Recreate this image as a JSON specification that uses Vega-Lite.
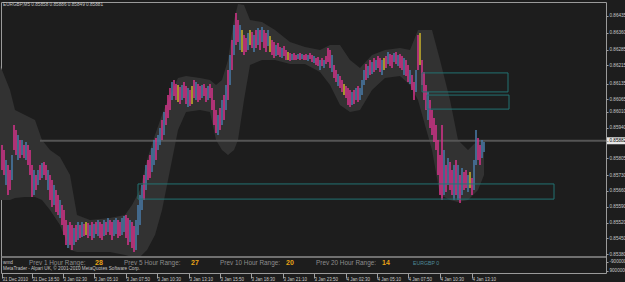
{
"$schema":"https://vega.github.io/schema/vega-lite/v6.json",
"width":605,"height":271,"autosize":"none",
"padding":{"left":1,"top":2,"right":19,"bottom":9},
"background":"#1d1d1d",
"config":{"view":{"stroke":"#9a9a9a","strokeWidth":1},"font":"Liberation Sans"},
"datasets":{
"band":[
{"t":0,"v":0.86217,"v2":0.8562},{"t":10,"v":0.86106,"v2":0.8562},{"t":15,"v":0.86018,"v2":0.85629},{"t":25,"v":0.85996,"v2":0.85633},{"t":35,"v":0.85974,"v2":0.85633},{"t":42,"v":0.85885,"v2":0.8562},{"t":50,"v":0.85841,"v2":0.85576},{"t":60,"v":0.8581,"v2":0.85509},{"t":70,"v":0.85731,"v2":0.85399},{"t":77,"v":0.85554,"v2":0.8539},{"t":90,"v":0.85532,"v2":0.8539},{"t":110,"v":0.8554,"v2":0.8539},{"t":125,"v":0.85554,"v2":0.85377},{"t":132,"v":0.85598,"v2":0.85368},{"t":140,"v":0.85664,"v2":0.85368},{"t":147,"v":0.85797,"v2":0.85399},{"t":155,"v":0.85907,"v2":0.85465},{"t":162,"v":0.85996,"v2":0.85576},{"t":170,"v":0.86084,"v2":0.85753},{"t":178,"v":0.8616,"v2":0.8593},{"t":186,"v":0.86168,"v2":0.86009},{"t":200,"v":0.8616,"v2":0.86018},{"t":210,"v":0.86151,"v2":0.86009},{"t":216,"v":0.86129,"v2":0.85885},{"t":222,"v":0.86151,"v2":0.85841},{"t":228,"v":0.86239,"v2":0.85819},{"t":234,"v":0.86416,"v2":0.85841},{"t":238,"v":0.86487,"v2":0.85885},{"t":244,"v":0.86482,"v2":0.86062},{"t":250,"v":0.86416,"v2":0.86217},{"t":262,"v":0.86407,"v2":0.86239},{"t":275,"v":0.86372,"v2":0.86239},{"t":290,"v":0.86319,"v2":0.86221},{"t":305,"v":0.86297,"v2":0.86221},{"t":320,"v":0.86283,"v2":0.86186},{"t":330,"v":0.86305,"v2":0.86129},{"t":340,"v":0.86305,"v2":0.8604},{"t":350,"v":0.86239,"v2":0.86009},{"t":360,"v":0.86204,"v2":0.86018},{"t":372,"v":0.86261,"v2":0.86106},{"t":385,"v":0.86283,"v2":0.8616},{"t":400,"v":0.86292,"v2":0.86168},{"t":410,"v":0.86283,"v2":0.86129},{"t":418,"v":0.86372,"v2":0.86062},{"t":425,"v":0.86372,"v2":0.85952},{"t":432,"v":0.86372,"v2":0.85841},{"t":440,"v":0.86239,"v2":0.85642},{"t":450,"v":0.86062,"v2":0.8562},{"t":458,"v":0.85885,"v2":0.85611},{"t":468,"v":0.85841,"v2":0.8562},{"t":478,"v":0.85885,"v2":0.85664},{"t":484,"v":0.85885,"v2":0.85731}
],
"bars":[
{"t":2,"v":0.85863,"v2":0.85753,"c":"d"},{"t":4,"v":0.85841,"v2":0.85731,"c":"d"},{"t":6,"v":0.85797,"v2":0.85686,"c":"u"},{"t":8,"v":0.85775,"v2":0.85642,"c":"d"},{"t":10,"v":0.85753,"v2":0.85664,"c":"d"},{"t":12,"v":0.85819,"v2":0.85708,"c":"u"},{"t":14,"v":0.85952,"v2":0.85841,"c":"d"},{"t":16,"v":0.8593,"v2":0.85819,"c":"d"},{"t":18,"v":0.85907,"v2":0.85797,"c":"u"},{"t":20,"v":0.85885,"v2":0.85806,"c":"d"},
{"t":22,"v":0.85885,"v2":0.85819,"c":"u"},{"t":24,"v":0.85863,"v2":0.85806,"c":"d"},{"t":26,"v":0.85877,"v2":0.85797,"c":"u"},{"t":28,"v":0.85863,"v2":0.85775,"c":"d"},{"t":30,"v":0.85841,"v2":0.85731,"c":"d"},{"t":32,"v":0.85775,"v2":0.85633,"c":"d"},{"t":34,"v":0.85753,"v2":0.85642,"c":"u"},{"t":36,"v":0.85731,"v2":0.85664,"c":"d"},{"t":38,"v":0.85753,"v2":0.85686,"c":"u"},{"t":40,"v":0.85775,"v2":0.85708,"c":"d"},
{"t":42,"v":0.85784,"v2":0.85717,"c":"u"},{"t":44,"v":0.85788,"v2":0.85731,"c":"d"},{"t":46,"v":0.85775,"v2":0.85708,"c":"d"},{"t":48,"v":0.85753,"v2":0.85664,"c":"u"},{"t":50,"v":0.85731,"v2":0.8562,"c":"d"},{"t":52,"v":0.85708,"v2":0.85589,"c":"d"},{"t":54,"v":0.85686,"v2":0.85598,"c":"u"},{"t":56,"v":0.85664,"v2":0.85567,"c":"d"},{"t":58,"v":0.85642,"v2":0.85554,"c":"d"},{"t":60,"v":0.8562,"v2":0.8554,"c":"u"},
{"t":62,"v":0.85598,"v2":0.85509,"c":"d"},{"t":64,"v":0.85576,"v2":0.85465,"c":"d"},{"t":66,"v":0.85532,"v2":0.85421,"c":"d"},{"t":68,"v":0.85509,"v2":0.85408,"c":"u"},{"t":70,"v":0.85523,"v2":0.85421,"c":"d"},{"t":72,"v":0.85509,"v2":0.85399,"c":"d"},{"t":74,"v":0.85496,"v2":0.85421,"c":"u"},{"t":76,"v":0.85509,"v2":0.85434,"c":"d"},{"t":78,"v":0.85523,"v2":0.85443,"c":"u"},{"t":80,"v":0.85509,"v2":0.85452,"c":"d"},
{"t":82,"v":0.85523,"v2":0.85456,"c":"u"},{"t":84,"v":0.85514,"v2":0.85461,"c":"d"},{"t":86,"v":0.85523,"v2":0.85465,"c":"y"},{"t":88,"v":0.85518,"v2":0.85452,"c":"d"},{"t":90,"v":0.85509,"v2":0.85461,"c":"u"},{"t":92,"v":0.85523,"v2":0.85443,"c":"d"},{"t":94,"v":0.85514,"v2":0.85452,"c":"u"},{"t":96,"v":0.85523,"v2":0.8547,"c":"d"},{"t":98,"v":0.85532,"v2":0.85461,"c":"u"},{"t":100,"v":0.85523,"v2":0.85452,"c":"d"},
{"t":102,"v":0.85514,"v2":0.85443,"c":"d"},{"t":104,"v":0.85532,"v2":0.85461,"c":"u"},{"t":106,"v":0.85523,"v2":0.85465,"c":"d"},{"t":108,"v":0.8554,"v2":0.85479,"c":"u"},{"t":110,"v":0.85532,"v2":0.85465,"c":"d"},{"t":112,"v":0.85523,"v2":0.85443,"c":"d"},{"t":114,"v":0.85532,"v2":0.85461,"c":"u"},{"t":116,"v":0.8554,"v2":0.8547,"c":"u"},{"t":118,"v":0.85532,"v2":0.85452,"c":"d"},{"t":120,"v":0.85523,"v2":0.85461,"c":"d"},
{"t":122,"v":0.8554,"v2":0.85465,"c":"u"},{"t":124,"v":0.85549,"v2":0.85479,"c":"u"},{"t":126,"v":0.85554,"v2":0.85452,"c":"d"},{"t":128,"v":0.8554,"v2":0.85421,"c":"d"},{"t":130,"v":0.85532,"v2":0.85434,"c":"u"},{"t":132,"v":0.85523,"v2":0.85408,"c":"d"},{"t":134,"v":0.85505,"v2":0.8539,"c":"d"},{"t":136,"v":0.85532,"v2":0.85399,"c":"u"},{"t":138,"v":0.85598,"v2":0.85465,"c":"u"},{"t":140,"v":0.85642,"v2":0.85509,"c":"u"},
{"t":142,"v":0.85686,"v2":0.85576,"c":"u"},{"t":144,"v":0.85731,"v2":0.8562,"c":"d"},{"t":146,"v":0.85775,"v2":0.85664,"c":"u"},{"t":148,"v":0.85797,"v2":0.85708,"c":"d"},{"t":150,"v":0.85819,"v2":0.85717,"c":"d"},{"t":152,"v":0.8585,"v2":0.85744,"c":"u"},{"t":154,"v":0.85885,"v2":0.85775,"c":"u"},{"t":156,"v":0.85894,"v2":0.85797,"c":"d"},{"t":158,"v":0.85907,"v2":0.85841,"c":"u"},{"t":160,"v":0.85938,"v2":0.85863,"c":"u"},
{"t":162,"v":0.85974,"v2":0.85885,"c":"d"},{"t":164,"v":0.86009,"v2":0.85907,"c":"u"},{"t":166,"v":0.8604,"v2":0.85952,"c":"d"},{"t":168,"v":0.86084,"v2":0.85983,"c":"d"},{"t":170,"v":0.86115,"v2":0.86018,"c":"d"},{"t":172,"v":0.86142,"v2":0.86062,"c":"u"},{"t":174,"v":0.86151,"v2":0.8608,"c":"d"},{"t":176,"v":0.86133,"v2":0.86062,"c":"d"},{"t":178,"v":0.86129,"v2":0.86053,"c":"y"},{"t":180,"v":0.8612,"v2":0.86045,"c":"d"},
{"t":182,"v":0.86129,"v2":0.86062,"c":"u"},{"t":184,"v":0.86142,"v2":0.86071,"c":"d"},{"t":186,"v":0.86124,"v2":0.86045,"c":"d"},{"t":188,"v":0.86115,"v2":0.86031,"c":"u"},{"t":190,"v":0.86106,"v2":0.86036,"c":"d"},{"t":192,"v":0.86124,"v2":0.86045,"c":"y"},{"t":194,"v":0.86151,"v2":0.86071,"c":"d"},{"t":196,"v":0.86142,"v2":0.86062,"c":"u"},{"t":198,"v":0.86133,"v2":0.86053,"c":"d"},{"t":200,"v":0.86124,"v2":0.86062,"c":"d"},
{"t":202,"v":0.86129,"v2":0.86071,"c":"u"},{"t":204,"v":0.86133,"v2":0.8608,"c":"d"},{"t":206,"v":0.86115,"v2":0.86053,"c":"d"},{"t":208,"v":0.86124,"v2":0.86062,"c":"u"},{"t":210,"v":0.86133,"v2":0.86071,"c":"d"},{"t":212,"v":0.86115,"v2":0.86018,"c":"d"},{"t":214,"v":0.86062,"v2":0.85952,"c":"d"},{"t":216,"v":0.86018,"v2":0.85916,"c":"d"},{"t":218,"v":0.85996,"v2":0.85907,"c":"u"},{"t":220,"v":0.86027,"v2":0.8593,"c":"d"},
{"t":222,"v":0.86062,"v2":0.85952,"c":"u"},{"t":224,"v":0.86084,"v2":0.85974,"c":"d"},{"t":226,"v":0.86129,"v2":0.86018,"c":"u"},{"t":228,"v":0.86195,"v2":0.86062,"c":"d"},{"t":230,"v":0.86261,"v2":0.86129,"c":"u"},{"t":232,"v":0.86328,"v2":0.86195,"c":"d"},{"t":234,"v":0.86394,"v2":0.86261,"c":"u"},{"t":236,"v":0.86447,"v2":0.86305,"c":"d"},{"t":238,"v":0.86416,"v2":0.86319,"c":"d"},{"t":240,"v":0.86394,"v2":0.86283,"c":"u"},
{"t":242,"v":0.86372,"v2":0.86274,"c":"y"},{"t":244,"v":0.8635,"v2":0.86261,"c":"d"},{"t":246,"v":0.86336,"v2":0.86274,"c":"d"},{"t":248,"v":0.86359,"v2":0.86283,"c":"u"},{"t":250,"v":0.86372,"v2":0.86305,"c":"y"},{"t":252,"v":0.86363,"v2":0.86292,"c":"d"},{"t":254,"v":0.8635,"v2":0.86274,"c":"u"},{"t":256,"v":0.86372,"v2":0.86292,"c":"d"},{"t":258,"v":0.86381,"v2":0.86305,"c":"u"},{"t":260,"v":0.86372,"v2":0.86283,"c":"d"},
{"t":262,"v":0.86385,"v2":0.86319,"c":"u"},{"t":264,"v":0.86372,"v2":0.86292,"c":"d"},{"t":266,"v":0.86359,"v2":0.86274,"c":"d"},{"t":268,"v":0.86372,"v2":0.86301,"c":"u"},{"t":270,"v":0.86345,"v2":0.86274,"c":"y"},{"t":272,"v":0.86328,"v2":0.86261,"c":"d"},{"t":274,"v":0.86319,"v2":0.86248,"c":"d"},{"t":276,"v":0.86305,"v2":0.86257,"c":"u"},{"t":278,"v":0.86314,"v2":0.86261,"c":"d"},{"t":280,"v":0.86297,"v2":0.86252,"c":"d"},
{"t":282,"v":0.86292,"v2":0.86248,"c":"u"},{"t":284,"v":0.86301,"v2":0.86257,"c":"d"},{"t":286,"v":0.86283,"v2":0.86239,"c":"d"},{"t":288,"v":0.86274,"v2":0.86239,"c":"y"},{"t":290,"v":0.8627,"v2":0.86235,"c":"d"},{"t":292,"v":0.86266,"v2":0.86239,"c":"u"},{"t":294,"v":0.8627,"v2":0.86239,"c":"d"},{"t":296,"v":0.86261,"v2":0.86239,"c":"d"},{"t":298,"v":0.86266,"v2":0.86244,"c":"u"},{"t":300,"v":0.8627,"v2":0.86239,"c":"d"},
{"t":302,"v":0.86266,"v2":0.86244,"c":"u"},{"t":304,"v":0.86261,"v2":0.86239,"c":"d"},{"t":306,"v":0.86266,"v2":0.86239,"c":"d"},{"t":308,"v":0.86261,"v2":0.86235,"c":"u"},{"t":310,"v":0.8627,"v2":0.86244,"c":"d"},{"t":312,"v":0.86261,"v2":0.8623,"c":"d"},{"t":314,"v":0.86257,"v2":0.86226,"c":"u"},{"t":316,"v":0.86248,"v2":0.86217,"c":"d"},{"t":318,"v":0.86252,"v2":0.86213,"c":"d"},{"t":320,"v":0.86239,"v2":0.86195,"c":"u"},
{"t":322,"v":0.86248,"v2":0.86213,"c":"d"},{"t":324,"v":0.86239,"v2":0.86204,"c":"u"},{"t":326,"v":0.86257,"v2":0.86221,"c":"d"},{"t":328,"v":0.86292,"v2":0.8623,"c":"d"},{"t":330,"v":0.86283,"v2":0.86204,"c":"d"},{"t":332,"v":0.86261,"v2":0.86186,"c":"u"},{"t":334,"v":0.86217,"v2":0.8616,"c":"d"},{"t":336,"v":0.86195,"v2":0.86142,"c":"d"},{"t":338,"v":0.86177,"v2":0.86124,"c":"u"},{"t":340,"v":0.86168,"v2":0.86115,"c":"d"},
{"t":342,"v":0.86151,"v2":0.86098,"c":"d"},{"t":344,"v":0.86133,"v2":0.86084,"c":"y"},{"t":346,"v":0.86124,"v2":0.86071,"c":"d"},{"t":348,"v":0.86115,"v2":0.8604,"c":"d"},{"t":350,"v":0.86106,"v2":0.86031,"c":"d"},{"t":352,"v":0.86098,"v2":0.8604,"c":"u"},{"t":354,"v":0.86106,"v2":0.86045,"c":"d"},{"t":356,"v":0.86115,"v2":0.86062,"c":"u"},{"t":358,"v":0.86124,"v2":0.86053,"c":"d"},{"t":360,"v":0.86115,"v2":0.86062,"c":"u"},
{"t":362,"v":0.86151,"v2":0.86084,"c":"u"},{"t":364,"v":0.86195,"v2":0.86129,"c":"u"},{"t":366,"v":0.86221,"v2":0.86151,"c":"d"},{"t":368,"v":0.86213,"v2":0.8616,"c":"u"},{"t":370,"v":0.86239,"v2":0.86173,"c":"d"},{"t":372,"v":0.8623,"v2":0.86177,"c":"u"},{"t":374,"v":0.86248,"v2":0.86186,"c":"d"},{"t":376,"v":0.86239,"v2":0.86195,"c":"u"},{"t":378,"v":0.86257,"v2":0.86204,"c":"d"},{"t":380,"v":0.86248,"v2":0.86186,"c":"d"},
{"t":382,"v":0.86239,"v2":0.86173,"c":"u"},{"t":384,"v":0.86248,"v2":0.86195,"c":"y"},{"t":386,"v":0.86257,"v2":0.86204,"c":"d"},{"t":388,"v":0.86274,"v2":0.86221,"c":"u"},{"t":390,"v":0.86266,"v2":0.86213,"c":"d"},{"t":392,"v":0.86261,"v2":0.86204,"c":"d"},{"t":394,"v":0.8627,"v2":0.8623,"c":"u"},{"t":396,"v":0.86274,"v2":0.86221,"c":"d"},{"t":398,"v":0.86261,"v2":0.86213,"c":"u"},{"t":400,"v":0.86266,"v2":0.86204,"c":"d"},
{"t":402,"v":0.86257,"v2":0.86195,"c":"d"},{"t":404,"v":0.86248,"v2":0.86173,"c":"u"},{"t":406,"v":0.86239,"v2":0.86168,"c":"d"},{"t":408,"v":0.86217,"v2":0.86142,"c":"d"},{"t":410,"v":0.86195,"v2":0.86133,"c":"u"},{"t":412,"v":0.86173,"v2":0.86106,"c":"d"},{"t":414,"v":0.86142,"v2":0.86062,"c":"d"},{"t":416,"v":0.86195,"v2":0.86098,"c":"u"},{"t":418,"v":0.8635,"v2":0.86195,"c":"d"},{"t":420,"v":0.86359,"v2":0.86217,"c":"y"},
{"t":422,"v":0.86239,"v2":0.86129,"c":"d"},{"t":424,"v":0.86186,"v2":0.86062,"c":"d"},{"t":426,"v":0.86129,"v2":0.86018,"c":"d"},{"t":428,"v":0.86098,"v2":0.85974,"c":"u"},{"t":430,"v":0.86062,"v2":0.85938,"c":"d"},{"t":432,"v":0.86018,"v2":0.85907,"c":"d"},{"t":434,"v":0.85983,"v2":0.85877,"c":"d"},{"t":436,"v":0.85952,"v2":0.85841,"c":"d"},{"t":438,"v":0.85885,"v2":0.85731,"c":"d"},{"t":440,"v":0.85819,"v2":0.85642,"c":"d"},
{"t":442,"v":0.85952,"v2":0.8562,"c":"d"},{"t":444,"v":0.85841,"v2":0.85642,"c":"u"},{"t":446,"v":0.85775,"v2":0.85655,"c":"d"},{"t":448,"v":0.85806,"v2":0.85686,"c":"u"},{"t":450,"v":0.85788,"v2":0.85664,"c":"d"},{"t":452,"v":0.85753,"v2":0.85642,"c":"d"},{"t":454,"v":0.85775,"v2":0.8562,"c":"u"},{"t":456,"v":0.85797,"v2":0.85642,"c":"d"},{"t":458,"v":0.85775,"v2":0.8562,"c":"u"},{"t":460,"v":0.85731,"v2":0.85607,"c":"d"},
{"t":462,"v":0.85762,"v2":0.85642,"c":"u"},{"t":464,"v":0.85744,"v2":0.85664,"c":"d"},{"t":466,"v":0.85753,"v2":0.85673,"c":"d"},{"t":468,"v":0.85731,"v2":0.85655,"c":"u"},{"t":470,"v":0.85744,"v2":0.85673,"c":"y"},{"t":472,"v":0.85717,"v2":0.85642,"c":"d"},{"t":474,"v":0.85797,"v2":0.85664,"c":"u"},{"t":476,"v":0.8593,"v2":0.85775,"c":"u"},{"t":478,"v":0.85894,"v2":0.85797,"c":"d"},{"t":480,"v":0.85863,"v2":0.85775,"c":"d"},
{"t":482,"v":0.85885,"v2":0.85806,"c":"u"},{"t":484,"v":0.85877,"v2":0.85832,"c":"u"}
],
"boxes":[
{"t":422,"t2":508,"v":0.86182,"v2":0.86098},
{"t":427,"t2":509,"v":0.86084,"v2":0.86022},
{"t":138,"t2":554,"v":0.85691,"v2":0.85624}
],
"lines":[
{"t":40,"t2":606,"v":0.85882,"k":"bid"},
{"t":1,"t2":606,"v":0.853679,"k":"sep"}
],
"tag":[{"t":607,"t2":640,"v":0.85897,"v2":0.85867}],
"labels":[
{"t":3,"v":0.864823,"txt":"EURGBP,M5  0.85858 0.85886 0.85849 0.85881","k":"small"},
{"t":3,"v":0.853414,"txt":"wmd","k":"small"},
{"t":3,"v":0.853149,"txt":"MetaTrader - Alpari UK, © 2001-2010 MetaQuotes Software Corp.","k":"small"},
{"t":29,"v":0.853414,"txt":"Prev 1 Hour Range:","k":"name"},
{"t":95,"v":0.853414,"txt":"28","k":"val"},
{"t":124,"v":0.853414,"txt":"Prev 5 Hour Range:","k":"name"},
{"t":191,"v":0.853414,"txt":"27","k":"val"},
{"t":220,"v":0.853414,"txt":"Prev 10 Hour Range:","k":"name"},
{"t":286,"v":0.853414,"txt":"20","k":"val"},
{"t":316,"v":0.853414,"txt":"Prev 20 Hour Range:","k":"name"},
{"t":382,"v":0.853414,"txt":"14","k":"val"},
{"t":413,"v":0.853414,"txt":"EURGBP  0","k":"sym"}
]
},
"encoding":{
 "x":{"field":"t","type":"quantitative","scale":{"domain":[1,606],"nice":false,"zero":false},
   "axis":{"orient":"bottom","values":[2,32,63,94,126,157,189,220,251,283,314,346,377,408,440,472],
   "labelExpr":"['31 Dec 2010','31 Dec 18:50','3 Jan 02:30','3 Jan 05:10','3 Jan 07:50','3 Jan 10:30','3 Jan 13:10','3 Jan 15:50','3 Jan 18:30','3 Jan 21:10','3 Jan 23:50','4 Jan 02:30','4 Jan 05:10','4 Jan 07:50','4 Jan 10:30','4 Jan 13:10'][indexof([2,32,63,94,126,157,189,220,251,283,314,346,377,408,440,472], datum.value)]",
   "labelAlign":"left","labelBaseline":"top","labelPadding":-2,"labelDx":2,"tickSize":5,"tickColor":"#a0a0a0","labelColor":"#c8c8c8","labelFontSize":4.5,"labelFont":"Liberation Sans","labelFlush":false,"labelOverlap":false,"labelBound":false,"domain":false,"grid":false,"title":null,"zindex":1}},
 "y":{"field":"v","type":"quantitative","scale":{"domain":[0.852972,0.864956],"nice":false,"zero":false},
   "axis":{"orient":"right","values":[0.86435,0.8636,0.86285,0.86215,0.86135,0.86065,0.8601,0.8594,0.85882,0.85805,0.8573,0.8566,0.8559,0.8552,0.8545,0.8538,0.853472,0.853074],
   "labelExpr":"datum.value < 0.8536 ? (datum.value > 0.8533 ? '-900000' : '9000000') : format(datum.value, '.5f')",
   "labelColor":{"condition":{"test":"datum.value == 0.85882","value":"#000000"},"value":"#c8c8c8"},
   "labelFontSize":4.6,"labelFont":"Liberation Sans","tickSize":2,"tickColor":"#a0a0a0","labelPadding":1,"labelOverlap":false,"labelBound":false,"labelFlush":false,"domain":false,"grid":false,"title":null,"zindex":1}}
},
"layer":[
{"data":{"name":"band"},"mark":{"type":"area","color":"#323232","opacity":1},"encoding":{"y2":{"field":"v2"}}},
{"data":{"name":"lines"},"transform":[{"filter":"datum.k == 'bid'"}],"mark":{"type":"rule","color":"#555555","strokeWidth":2},"encoding":{"x2":{"field":"t2"}}},
{"data":{"name":"bars"},"mark":{"type":"rule","strokeWidth":1.5},
 "encoding":{"y2":{"field":"v2"},"color":{"field":"c","type":"nominal","scale":{"domain":["d","u","y"],"range":["#d8338c","#4a7cab","#cdb52c"]},"legend":null}}},
{"data":{"name":"boxes"},"mark":{"type":"rect","filled":false,"stroke":"#237272","strokeWidth":1},"encoding":{"x2":{"field":"t2"},"y2":{"field":"v2"}}},
{"data":{"name":"lines"},"transform":[{"filter":"datum.k == 'sep'"}],"mark":{"type":"rule","color":"#8c8c8c","strokeWidth":1.5},"encoding":{"x2":{"field":"t2"}}},
{"data":{"name":"tag"},"mark":{"type":"rect","color":"#e6e6e6","clip":false},"encoding":{"x2":{"field":"t2"},"y2":{"field":"v2"}}},
{"data":{"name":"labels"},"transform":[{"filter":"datum.k == 'small'"}],"mark":{"type":"text","align":"left","baseline":"middle","fontSize":4.7,"color":"#c4c4c4","font":"Liberation Sans"},"encoding":{"text":{"field":"txt"}}},
{"data":{"name":"labels"},"transform":[{"filter":"datum.k == 'name'"}],"mark":{"type":"text","align":"left","baseline":"middle","fontSize":6.4,"color":"#8e8e8e","font":"Liberation Sans"},"encoding":{"text":{"field":"txt"}}},
{"data":{"name":"labels"},"transform":[{"filter":"datum.k == 'val'"}],"mark":{"type":"text","align":"left","baseline":"middle","fontSize":7,"fontWeight":"bold","color":"#e8a317","font":"Liberation Sans"},"encoding":{"text":{"field":"txt"}}},
{"data":{"name":"labels"},"transform":[{"filter":"datum.k == 'sym'"}],"mark":{"type":"text","align":"left","baseline":"middle","fontSize":5.2,"color":"#4f8a99","font":"Liberation Sans"},"encoding":{"text":{"field":"txt"}}}
]
}
